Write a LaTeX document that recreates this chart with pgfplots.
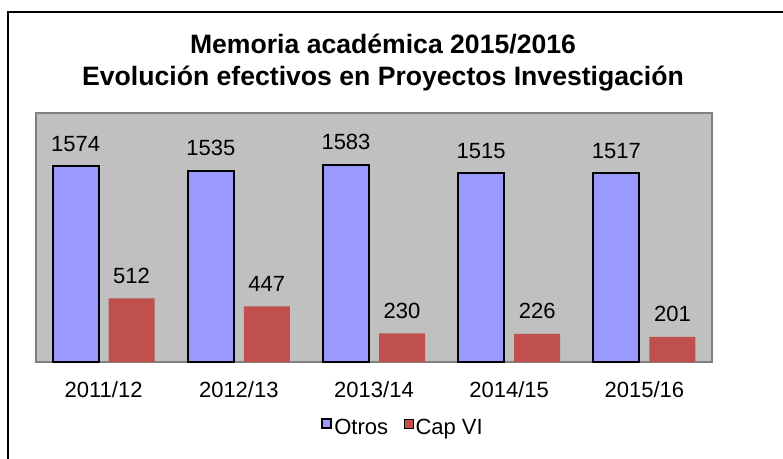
\documentclass[border=0pt]{standalone}
\usepackage{pgfplots}
\pgfplotsset{compat=1.18}
\usepackage{fontspec}
\setmainfont{Liberation Sans}
\definecolor{otros}{HTML}{9999FF}
\definecolor{capvi}{HTML}{C0504D}
\definecolor{plotbg}{HTML}{C0C0C0}
\definecolor{plotedge}{HTML}{808080}
\begin{document}
\begin{tikzpicture}[x=1pt,y=1pt]
\useasboundingbox (0,0) rectangle (783,458);
\clip (0,0) rectangle (783,458);
\fill[white] (0,0) rectangle (783,458);
\draw[line width=1.4pt] (8,-20) -- (8,446) -- (800,446);
\node[anchor=base, inner sep=0pt, font=\bfseries\fontsize{26.6pt}{30pt}\selectfont] at (383,404) {Memoria académica 2015/2016};
\node[anchor=base, inner sep=0pt, font=\bfseries\fontsize{26.6pt}{30pt}\selectfont] at (383,372) {Evolución efectivos en Proyectos Investigación};
\begin{axis}[
  at={(36pt,96pt)}, anchor=south west,
  width=676pt, height=249pt, scale only axis,
  xmin=-0.5, xmax=4.5, ymin=0, ymax=2000,
  ybar=10pt, bar width=46pt,
  xtick=data, xticklabels={2011/12,2012/13,2013/14,2014/15,2015/16},
  ytick=\empty,
  major tick length=0pt,
  axis background/.style={fill=plotbg},
  axis line style={draw=plotedge, line width=1.5pt},
  tick label style={font=\fontsize{22pt}{26pt}\selectfont},
  xticklabel style={anchor=base, yshift=-35pt},
  /pgf/number format/assume math mode=true,
  /pgf/number format/1000 sep={},
  nodes near coords,
  every node near coord/.append style={font=\fontsize{22pt}{26pt}\selectfont, anchor=base, yshift=15pt, black},
  legend columns=2,
  legend style={at={(0.543,-0.265)}, anchor=center, draw=none, fill=none, font=\fontsize{22pt}{26pt}\selectfont, /tikz/every even column/.append style={column sep=14pt}},
  legend image code/.code={\draw[#1] (0pt,0pt) rectangle (9pt,9pt);},
]
\addplot[fill=otros, draw=black, line width=2pt] coordinates {(0,1574) (1,1535) (2,1583) (3,1515) (4,1517)};
\addplot[fill=capvi, draw=none] coordinates {(0,512) (1,447) (2,230) (3,226) (4,201)};
\legend{Otros, Cap VI}
\end{axis}
\end{tikzpicture}
\end{document}
